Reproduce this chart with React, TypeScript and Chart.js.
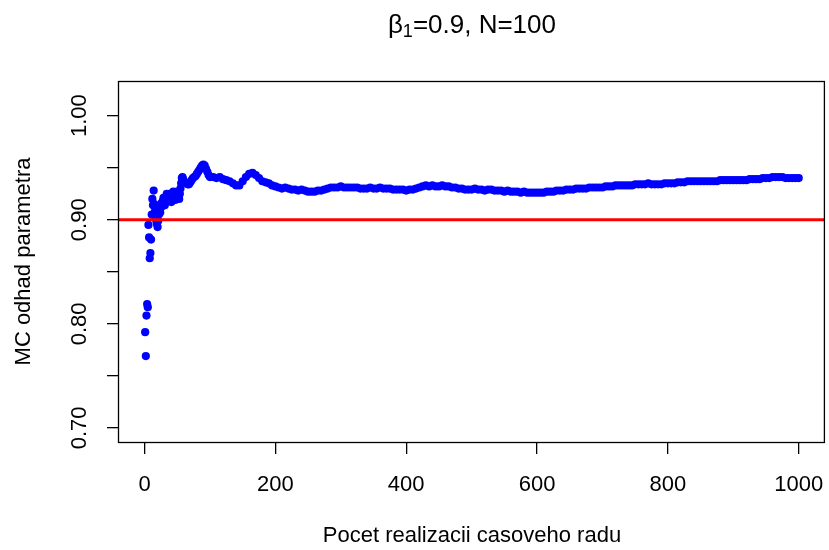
import React, { useEffect, useRef } from "react";
import { Chart, registerables } from "chart.js";

Chart.register(...registerables);

// Running Monte Carlo estimate of beta_1 against the number of simulated series.
const earlyIterations = [
  1, 2, 3, 4, 5, 6, 7, 8, 9, 10,
  11, 12, 13, 14, 15, 16, 17, 18, 19, 20,
  21, 22, 23, 24, 25, 26, 27, 28, 29, 30,
  31, 32, 33, 34, 35, 36, 37, 38, 39, 40,
  41, 42, 43, 44, 45, 46, 47, 48, 49, 50,
  51, 52, 53, 54, 55, 56, 57, 58, 59, 60,
];
const earlyEstimates = [
  0.792, 0.769, 0.808, 0.819, 0.816, 0.895, 0.883, 0.863, 0.868, 0.881,
  0.905, 0.92, 0.914, 0.928, 0.915, 0.908, 0.903, 0.899, 0.896, 0.893,
  0.899, 0.905, 0.91, 0.907, 0.912, 0.916, 0.913, 0.918, 0.921, 0.917,
  0.914, 0.918, 0.922, 0.925, 0.921, 0.918, 0.922, 0.925, 0.923, 0.92,
  0.917, 0.92, 0.924, 0.927, 0.925, 0.922, 0.919, 0.921, 0.924, 0.927,
  0.926, 0.923, 0.92, 0.925, 0.93, 0.935, 0.94, 0.941, 0.939, 0.937,
];

const midIterations = [
  62, 64, 66, 68, 70, 72, 74, 76, 78, 80,
  82, 84, 86, 88, 90, 92, 94, 96, 98, 100,
];
const midEstimates = [
  0.936, 0.935, 0.934, 0.934, 0.936, 0.938, 0.94, 0.941, 0.942, 0.944,
  0.946, 0.948, 0.95, 0.952, 0.953, 0.952, 0.949, 0.946, 0.943, 0.941,
];

const lateIterations = [
  105, 110, 115, 120, 125, 130, 135, 140, 145, 150,
  155, 160, 165, 170, 175, 180, 185, 190, 195, 200,
  205, 210, 215, 220, 225, 230, 235, 240, 245, 250,
  255, 260, 265, 270, 275, 280, 285, 290, 295, 300,
  305, 310, 315, 320, 325, 330, 335, 340, 345, 350,
  355, 360, 365, 370, 375, 380, 385, 390, 395, 400,
  405, 410, 415, 420, 425, 430, 435, 440, 445, 450,
  455, 460, 465, 470, 475, 480, 485, 490, 495, 500,
  505, 510, 515, 520, 525, 530, 535, 540, 545, 550,
  555, 560, 565, 570, 575, 580, 585, 590, 595, 600,
  605, 610, 615, 620, 625, 630, 635, 640, 645, 650,
  655, 660, 665, 670, 675, 680, 685, 690, 695, 700,
  705, 710, 715, 720, 725, 730, 735, 740, 745, 750,
  755, 760, 765, 770, 775, 780, 785, 790, 795, 800,
  805, 810, 815, 820, 825, 830, 835, 840, 845, 850,
  855, 860, 865, 870, 875, 880, 885, 890, 895, 900,
  905, 910, 915, 920, 925, 930, 935, 940, 945, 950,
  955, 960, 965, 970, 975, 980, 985, 990, 995, 1000,
];
const lateEstimates = [
  0.941, 0.94, 0.941, 0.939, 0.938, 0.937, 0.935, 0.933, 0.933, 0.937,
  0.941, 0.944, 0.945, 0.943, 0.94, 0.937, 0.936, 0.935, 0.933, 0.932,
  0.931, 0.93, 0.931, 0.93, 0.929, 0.929, 0.928, 0.929, 0.928, 0.927,
  0.927, 0.927, 0.928, 0.928, 0.929, 0.93, 0.931, 0.931, 0.931, 0.932,
  0.931, 0.931, 0.931, 0.931, 0.931, 0.93, 0.93, 0.93, 0.931, 0.93,
  0.93, 0.931, 0.93, 0.93, 0.93, 0.929, 0.929, 0.929, 0.929, 0.928,
  0.929, 0.929, 0.93, 0.931, 0.932, 0.933, 0.932, 0.933, 0.932, 0.932,
  0.933, 0.932, 0.932, 0.931, 0.931, 0.93, 0.93, 0.929, 0.929, 0.929,
  0.93, 0.929, 0.929, 0.928, 0.929, 0.929, 0.928, 0.928, 0.928, 0.927,
  0.928, 0.927, 0.927, 0.927, 0.926, 0.927, 0.926, 0.926, 0.926, 0.926,
  0.926, 0.926, 0.927, 0.927, 0.927, 0.928, 0.928, 0.928, 0.929, 0.929,
  0.929, 0.93, 0.93, 0.93, 0.93, 0.931, 0.931, 0.931, 0.931, 0.931,
  0.932, 0.932, 0.932, 0.933, 0.933, 0.933, 0.933, 0.933, 0.933, 0.934,
  0.934, 0.934, 0.934, 0.935, 0.934, 0.934, 0.934, 0.934, 0.935, 0.935,
  0.935, 0.935, 0.936, 0.936, 0.936, 0.937, 0.937, 0.937, 0.937, 0.937,
  0.937, 0.937, 0.937, 0.937, 0.937, 0.938, 0.938, 0.938, 0.938, 0.938,
  0.938, 0.938, 0.938, 0.938, 0.939, 0.939, 0.939, 0.939, 0.94, 0.94,
  0.94, 0.941, 0.941, 0.941, 0.941, 0.94, 0.94, 0.94, 0.94, 0.94,
];

const TRUE_BETA = 0.9;
const X_TICKS = [0, 200, 400, 600, 800, 1000];
const X_TICK_LABELS = ["0", "200", "400", "600", "800", "1000"];
const Y_TICKS = [0.7, 0.75, 0.8, 0.85, 0.9, 0.95, 1.0];
const Y_TICK_LABELS = ["0.70", "", "0.80", "", "0.90", "", "1.00"];
const X_LIMITS = [-39, 1040];
const Y_LIMITS = [0.6865, 1.0333];

const FONT = '"Liberation Sans", Arial, Helvetica, sans-serif';

// Plot frame plus the "β₁=0.9, N=100" heading with a real subscript.
const framePlugin = {
  id: "frameAndHeading",
  afterDraw(chart: any) {
    const { ctx, chartArea: a } = chart;
    ctx.save();
    ctx.strokeStyle = "#000";
    ctx.lineWidth = 1.3;
    ctx.strokeRect(a.left - 0.5, a.top + 0.5, a.right - a.left, a.bottom - a.top);

    const main = "=0.9, N=100";
    ctx.fillStyle = "#000";
    ctx.textAlign = "left";
    ctx.textBaseline = "alphabetic";
    ctx.font = `26px ${FONT}`;
    const wBeta = ctx.measureText("β").width;
    const wMain = ctx.measureText(main).width;
    ctx.font = `18px ${FONT}`;
    const wSub = ctx.measureText("1").width;
    const cx = (a.left + a.right) / 2;
    let x = cx - (wBeta + wSub + wMain) / 2;
    const baseline = 32.5;
    ctx.font = `26px ${FONT}`;
    ctx.fillText("β", x, baseline);
    x += wBeta;
    ctx.font = `18px ${FONT}`;
    ctx.fillText("1", x, baseline + 4.5);
    x += wSub;
    ctx.font = `26px ${FONT}`;
    ctx.fillText(main, x, baseline);
    ctx.restore();
  },
};

export default function App() {
  const canvasRef = useRef<HTMLCanvasElement | null>(null);

  useEffect(() => {
    const canvas = canvasRef.current;
    if (!canvas) return;

    const toPoints = (xs: number[], ys: number[]) => xs.map((x, i) => ({ x, y: ys[i] }));
    const points = [
      ...toPoints(earlyIterations, earlyEstimates),
      ...toPoints(midIterations, midEstimates),
      ...toPoints(lateIterations, lateEstimates),
    ];

    const tickFont = { family: FONT, size: 22 };

    const chart = new Chart(canvas, {
      type: "scatter",
      data: {
        datasets: [
          {
            type: "line",
            label: "beta",
            data: [
              { x: X_LIMITS[0], y: TRUE_BETA },
              { x: X_LIMITS[1], y: TRUE_BETA },
            ],
            borderColor: "#ff0000",
            borderWidth: 3,
            pointRadius: 0,
            fill: false,
          } as any,
          {
            label: "MC",
            data: points,
            backgroundColor: "#0000ff",
            borderWidth: 0,
            pointRadius: 4.1,
            pointHoverRadius: 4.1,
            showLine: false,
          },
        ],
      },
      options: {
        animation: false,
        responsive: false,
        devicePixelRatio: 1,
        layout: { padding: { top: 81, right: 3, left: 0, bottom: 0 } },
        plugins: {
          legend: { display: false },
          tooltip: { enabled: false },
          title: { display: false },
        },
        events: [],
        scales: {
          x: {
            type: "linear",
            min: X_LIMITS[0],
            max: X_LIMITS[1],
            afterBuildTicks: (s: any) => {
              s.ticks = X_TICKS.map((v) => ({ value: v }));
            },
            afterFit: (s: any) => {
              s.height = 108;
              s.paddingLeft = 0;
              s.paddingRight = 0;
            },
            ticks: {
              autoSkip: false,
              minRotation: 0,
              maxRotation: 0,
              padding: 18,
              color: "#000",
              font: tickFont,
              callback: (_v: any, i: number) => X_TICK_LABELS[i],
            },
            grid: { drawOnChartArea: false, drawTicks: true, tickLength: 12, color: "#000", lineWidth: 1.3 },
            border: { display: false },
            title: {
              display: true,
              text: "Pocet realizacii casoveho radu",
              color: "#000",
              font: tickFont,
              padding: { top: 0, bottom: 1 },
            },
          },
          y: {
            type: "linear",
            min: Y_LIMITS[0],
            max: Y_LIMITS[1],
            afterBuildTicks: (s: any) => {
              s.ticks = Y_TICKS.map((v) => ({ value: v }));
            },
            afterFit: (s: any) => {
              s.width = 119;
              s.paddingTop = 0;
              s.paddingBottom = 0;
            },
            ticks: {
              autoSkip: false,
              minRotation: 90,
              maxRotation: 90,
              padding: 6,
              crossAlign: "center",
              color: "#000",
              font: tickFont,
              callback: (_v: any, i: number) => Y_TICK_LABELS[i],
            },
            grid: { drawOnChartArea: false, drawTicks: true, tickLength: 12, color: "#000", lineWidth: 1.3 },
            border: { display: false },
            title: {
              display: true,
              text: "MC odhad parametra",
              color: "#000",
              font: tickFont,
              padding: { top: 11, bottom: 0 },
            },
          },
        },
      },
      plugins: [framePlugin],
    });

    return () => chart.destroy();
  }, []);

  return (
    <div style={{ position: "absolute", left: 0, top: 0, width: 829, height: 550, background: "#fff" }}>
      <canvas ref={canvasRef} width={829} height={550} style={{ width: 829, height: 550, display: "block" }} />
    </div>
  );
}
